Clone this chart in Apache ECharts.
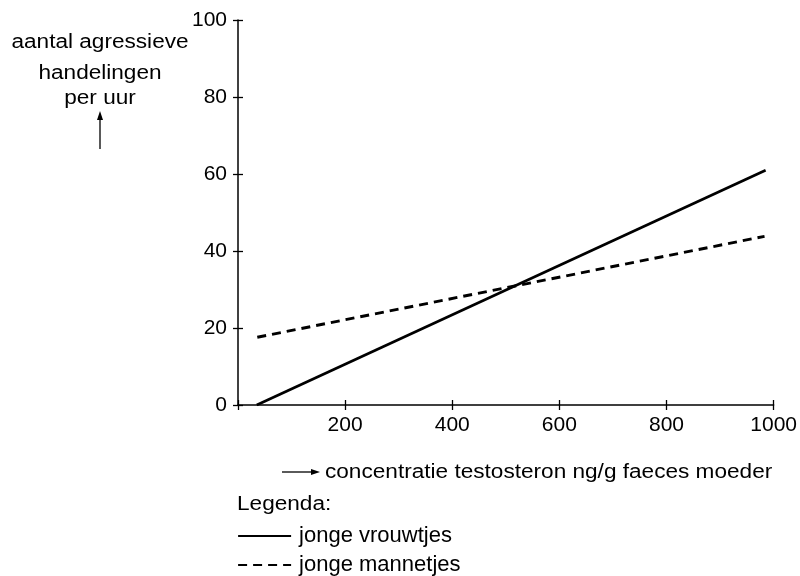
<!DOCTYPE html>
<html>
<head>
<meta charset="utf-8">
<script src="https://cdn.jsdelivr.net/npm/echarts@6/dist/echarts.min.js"></script>
<style>
html,body{margin:0;padding:0;background:#fff;}
#main{width:800px;height:576px;}
</style>
</head>
<body>
<div id="main"></div>
<script>
// Data
const seriesNames = ['jonge vrouwtjes', 'jonge mannetjes'];
const vrouwtjes = [[35, 0], [985, 61]];
const mannetjes = [[36, 17.6], [983, 43.8]];
const xTicks = [0, 200, 400, 600, 800, 1000];
const yTicks = [0, 20, 40, 60, 80, 100];
const yLabelLines = ['aantal agressieve', 'handelingen', 'per uur'];
const xLabel = 'concentratie testosteron ng/g faeces moeder';
const legendTitle = 'Legenda:';

const FONT = 'Liberation Sans, Arial, Helvetica, sans-serif';
const chart = echarts.init(document.getElementById('main'), null, {renderer: 'canvas'});

const baseX = {
  type: 'value', min: xTicks[0], max: xTicks[xTicks.length - 1], interval: xTicks[1] - xTicks[0],
  splitLine: {show: false}
};
const baseY = {
  type: 'value', min: yTicks[0], max: yTicks[yTicks.length - 1], interval: yTicks[1] - yTicks[0],
  splitLine: {show: false}
};

function txt(text, x, y, align) {
  return {
    type: 'text', x: x, y: y, scaleX: 1.13, scaleY: 1,
    style: {text: text, fill: '#000', font: '20px ' + FONT, align: align, verticalAlign: 'middle'}
  };
}

const legendCommon = {
  show: true,
  orient: 'vertical',
  left: 237,
  padding: 0,
  itemWidth: 53,
  itemHeight: 14,
  itemGap: 0,
  itemStyle: {opacity: 0},
  lineStyle: {width: 2.2},
  textStyle: {color: '#000', fontFamily: FONT, fontSize: 22, padding: [0, 0, 0, 3]}
};

chart.setOption({
  animation: false,
  backgroundColor: '#fff',
  grid: {left: 238, right: 24, top: 20, bottom: 171, containLabel: false},
  xAxis: [
    Object.assign({}, baseX, {
      position: 'bottom',
      axisLine: {show: true, lineStyle: {color: '#000', width: 1.5}},
      axisTick: {show: true, inside: false, length: 5, lineStyle: {color: '#000', width: 1.3}},
      axisLabel: {show: true, color: '#000', fontFamily: FONT, fontSize: 21, margin: 10,
        formatter: v => v === 0 ? '' : String(v)}
    }),
    Object.assign({}, baseX, {
      position: 'bottom',
      axisLine: {show: false},
      axisTick: {show: true, inside: true, length: 5, lineStyle: {color: '#000', width: 1.3}},
      axisLabel: {show: false}
    })
  ],
  yAxis: [
    Object.assign({}, baseY, {
      position: 'left',
      axisLine: {show: true, lineStyle: {color: '#000', width: 1.5}},
      axisTick: {show: true, inside: false, length: 5, lineStyle: {color: '#000', width: 1.3}},
      axisLabel: {show: true, color: '#000', fontFamily: FONT, fontSize: 21, margin: 11}
    }),
    Object.assign({}, baseY, {
      position: 'left',
      axisLine: {show: false},
      axisTick: {show: true, inside: true, length: 5, lineStyle: {color: '#000', width: 1.3}},
      axisLabel: {show: false}
    })
  ],
  legend: [
    Object.assign({}, legendCommon, {top: 525, data: [seriesNames[0]]}),
    Object.assign({}, legendCommon, {top: 554, data: [seriesNames[1]]})
  ],
  series: [
    {
      name: seriesNames[0], type: 'line', data: vrouwtjes, symbol: 'none',
      xAxisIndex: 0, yAxisIndex: 0,
      lineStyle: {color: '#000', width: 2.7, type: 'solid'},
      itemStyle: {color: '#000'}
    },
    {
      name: seriesNames[1], type: 'line', data: mannetjes, symbol: 'none',
      xAxisIndex: 0, yAxisIndex: 0,
      lineStyle: {color: '#000', width: 2.9, type: [9, 6]},
      itemStyle: {color: '#000'}
    }
  ],
  graphic: [
    txt(yLabelLines[0], 100, 42, 'center'),
    txt(yLabelLines[1], 100, 73, 'center'),
    txt(yLabelLines[2], 100, 98, 'center'),
    {type: 'line', shape: {x1: 100, y1: 149, x2: 100, y2: 118}, style: {stroke: '#000', lineWidth: 1.3}},
    {type: 'polygon', shape: {points: [[100, 111], [97, 120], [103, 120]]}, style: {fill: '#000'}},
    {type: 'line', shape: {x1: 282, y1: 472, x2: 313, y2: 472}, style: {stroke: '#000', lineWidth: 1.3}},
    {type: 'polygon', shape: {points: [[320, 472], [311, 469], [311, 475]]}, style: {fill: '#000'}},
    txt(xLabel, 325, 472, 'left'),
    txt(legendTitle, 237, 504, 'left')
  ]
});
</script>
</body>
</html>
